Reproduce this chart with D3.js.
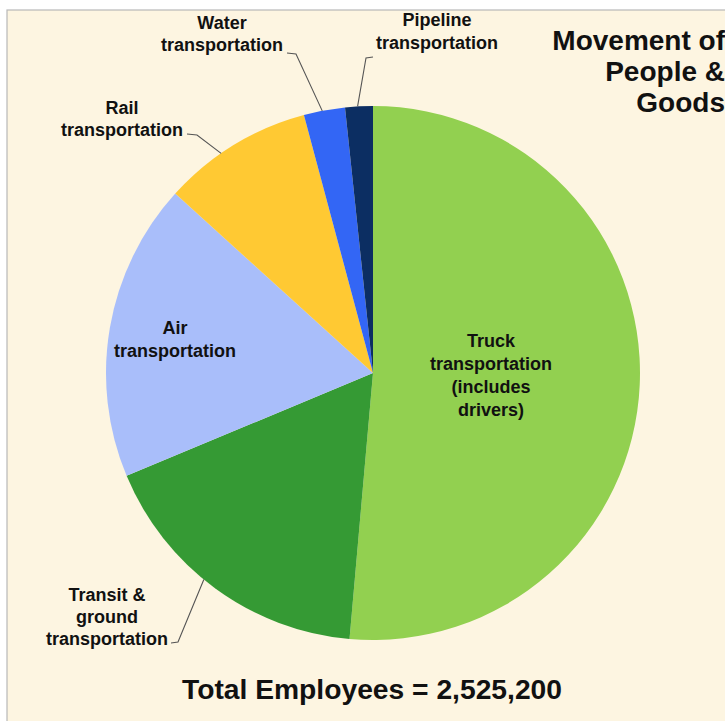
<!DOCTYPE html>
<html><head><meta charset="utf-8">
<script src="https://cdn.jsdelivr.net/npm/d3@7"></script>
<style>body{margin:0;background:#fff;}svg{display:block;}</style>
</head><body>
<script>
const categories = ["Truck transportation (includes drivers)","Transit & ground transportation","Air transportation","Rail transportation","Water transportation","Pipeline transportation"];
const employees = [1298000, 437000, 455000, 230000, 63000, 42200];
const colors = ["#92D050","#359A34","#A9BEFA","#FFC933","#3366F5","#0C2E62"];
const labelLines = [["Truck","transportation","(includes","drivers)"],["Transit &","ground","transportation"],["Air","transportation"],["Rail","transportation"],["Water","transportation"],["Pipeline","transportation"]];
const titleLines = ["Movement of","People &","Goods"];
const totalLabel = "Total Employees = 2,525,200";

const W=725,H=721;
const svg=d3.select("body").append("svg").attr("width",W).attr("height",H);
svg.append("rect").attr("x",7).attr("y",10).attr("width",W).attr("height",H).attr("fill","#FDF5E1").attr("stroke","#b8b8b8").attr("stroke-width",1.2);

const cx=373,cy=373,R=267;
const pie=d3.pie().sort(null).value(d=>d)(employees);
const arc=d3.arc().innerRadius(0).outerRadius(R);
const g=svg.append("g").attr("transform",`translate(${cx},${cy})`);
g.selectAll("path").data(pie).join("path").attr("d",arc).attr("fill",(d,i)=>colors[i]);

const font="'Liberation Sans', Arial, sans-serif";
function lbl(lines,x,y,size,lh,anchor){
  const t=svg.append("text").attr("font-family",font).attr("font-weight","bold").attr("font-size",size).attr("fill","#111").attr("text-anchor",anchor||"middle");
  lines.forEach((l,i)=>t.append("tspan").attr("x",x).attr("y",y+i*lh).text(l));
}
// inside labels
lbl(labelLines[0],491,347,18,23);
lbl(labelLines[2],175,334,18,23);
// outside labels
lbl(labelLines[1],107,601,18,22);
lbl(labelLines[3],122,114,18,22);
lbl(labelLines[4],222,29,18,22);
lbl(labelLines[5],437,26,18,23);
// leader lines: from label to point on slice edge
function edgePt(i,frac){const d=pie[i];const a=d.startAngle+(d.endAngle-d.startAngle)*frac;return [cx+Math.sin(a)*R,cy-Math.cos(a)*R];}
const leaders=[
  {i:1,pts:[[171,643],[178,642]],frac:0.55},
  {i:3,pts:[[187,134],[197,135]],frac:0.4},
  {i:4,pts:[[287,53],[296,54]],frac:0.45},
  {i:5,pts:[[373,57],[366,58]],frac:0.45}
];
leaders.forEach(L=>{
  const p=L.pts.concat([edgePt(L.i,L.frac)]);
  svg.append("path").attr("d",d3.line()(p)).attr("fill","none").attr("stroke","#555").attr("stroke-width",1.1);
});
// title
lbl(titleLines,725,50,28,31,"end");
// total
svg.append("text").attr("x",372).attr("y",699).attr("text-anchor","middle").attr("font-family",font).attr("font-weight","bold").attr("font-size",27).attr("fill","#111").attr("textLength",380).attr("lengthAdjust","spacingAndGlyphs").text(totalLabel);
</script>
</body></html>
